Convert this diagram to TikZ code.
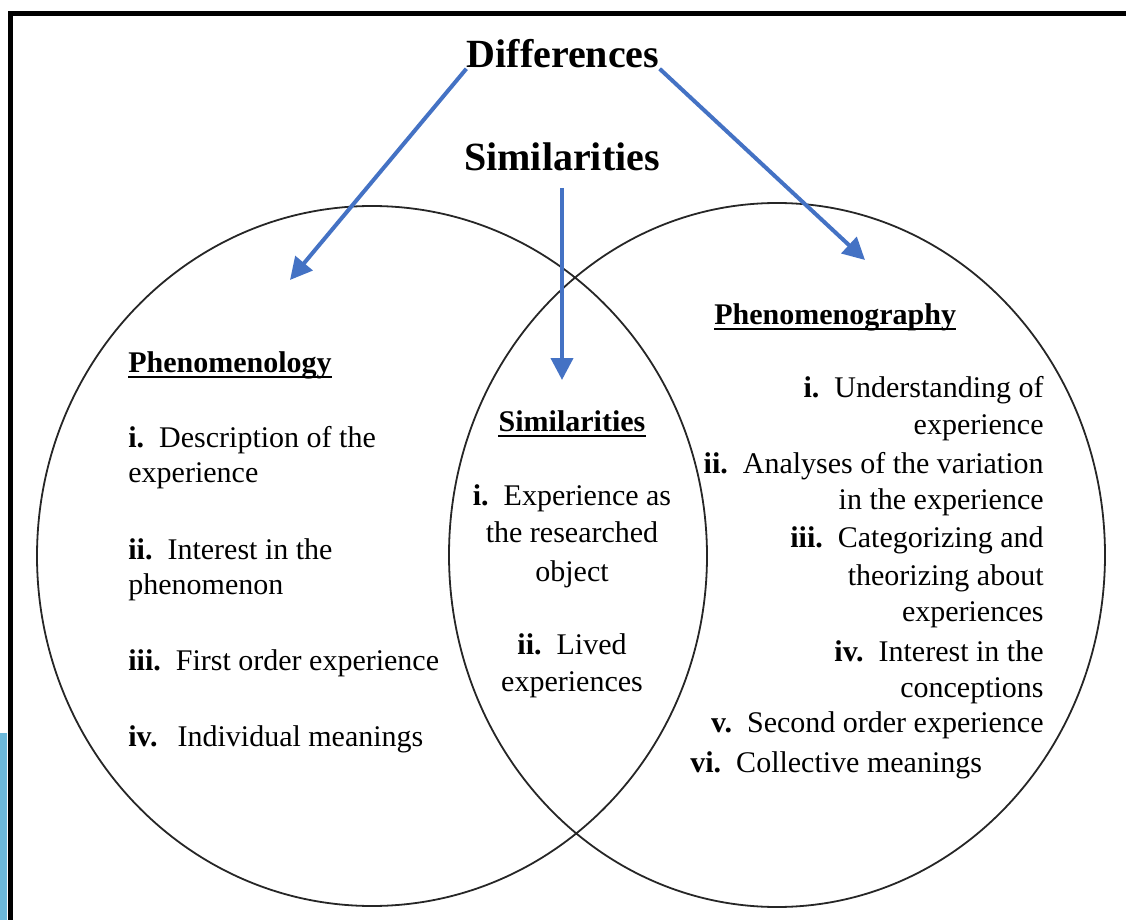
\documentclass[tikz,border=0pt]{standalone}
\usepackage{fontspec}
\setmainfont{Liberation Serif}
\usetikzlibrary{arrows.meta}
\definecolor{arrowblue}{RGB}{68,114,196}
\definecolor{stripblue}{RGB}{108,185,219}
\tikzset{
  txt/.style={inner sep=0pt, font=\fontsize{15}{18}\selectfont},
  ttl/.style={inner sep=0pt, font=\fontsize{20}{24}\selectfont\bfseries},
  hdg/.style={txt, font=\fontsize{15}{18}\selectfont\bfseries},
  bluearrow/.style={draw=arrowblue, line width=2pt, line cap=butt,
    -{Triangle[length=11pt,width=11pt]}},
  setline/.style={draw=black!85, line width=0.9pt},
  uline/.style={line width=1.3pt, line cap=butt},
}
\newcommand{\itemno}[1]{\textbf{#1}\enspace}
\begin{document}
\begin{tikzpicture}[x=0.5pt, y=-0.5pt, line join=round, line cap=round]
	\useasboundingbox (0,0) rectangle (1126,920);
	% frame
	\fill[stripblue] (0,733) rectangle (7,920);
	\draw[line width=2.5pt, line cap=butt, line join=miter] (10.5,920) -- (10.5,14) -- (1126,14);
	% the two sets
	\draw[setline] (372,556) ellipse (335 and 350)
	(777,555) ellipse (328 and 352);
	% titles and arrows
	\node[ttl, anchor=base] (diff) at (563,68) {Differences};
	\node[ttl, anchor=base] (sim) at (562,170) {Similarities};
	\path
	(290,280) coordinate (tipL)
	(865,260) coordinate (tipR)
	(562,380) coordinate (tipS);
	\draw[bluearrow] (diff.south west) -- (tipL);
	\draw[bluearrow] (diff.south east) -- (tipR);
	\draw[bluearrow, shorten <=8.5pt] (sim.south) -- (tipS);
	% headings
	\node[hdg, anchor=base west] (phl) at (128,372) {Phenomenology};
	\node[hdg, anchor=base] (sml) at (572,431) {Similarities};
	\node[hdg, anchor=base west] (phg) at (714,324) {Phenomenography};
	\foreach \h in {phl, sml, phg}
	\draw[uline] ([yshift=-2.4pt]\h.base west) -- ([yshift=-2.4pt]\h.base east);
	% phenomenology
	\foreach \y/\t [count=\i] in {447/{\itemno{i.}Description of the}, 482/experience,
		559/{\itemno{ii.}Interest in the}, 594/phenomenon,
		670/{\itemno{iii.}First order experience},
		746/{\itemno{iv.}\,Individual meanings}}
	\node[txt, anchor=base west] (pl\i) at (128,\y) {\t};
	% similarities
	\foreach \y/\t [count=\i] in {505/{\itemno{i.}Experience as}, 542/the researched,
		581/object, 654/{\itemno{ii.}Lived}, 691/experiences}
	\node[txt, anchor=base] (sm\i) at (572,\y) {\t};
	% phenomenography
	\foreach \y/\t [count=\i] in {397/{\itemno{i.}Understanding of}, 434/experience,
		473/{\itemno{ii.}Analyses of the variation}, 509/in the experience,
		547/{\itemno{iii.}Categorizing and}, 585/theorizing about, 621/experiences,
		661/{\itemno{iv.}Interest in the}, 697/conceptions,
		732/{\itemno{v.}Second order experience}}
	\node[txt, anchor=base east] (pg\i) at (1044,\y) {\t};
	\node[txt, anchor=base west] (pg11) at (690,772) {\itemno{vi.}Collective meanings};
\end{tikzpicture}
\end{document}
